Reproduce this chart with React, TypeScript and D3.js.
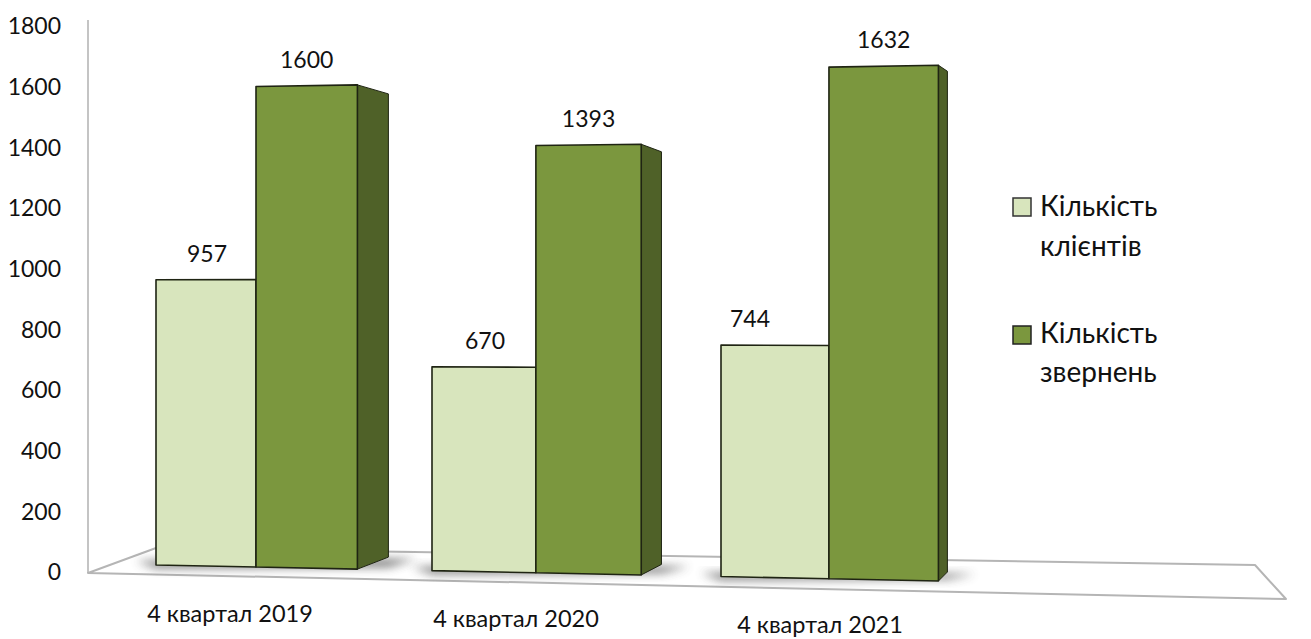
import * as d3 from 'd3';

const categories = ['4 квартал 2019', '4 квартал 2020', '4 квартал 2021'];
const clients = [957, 670, 744];
const requests = [1600, 1393, 1632];
const yTicks = [0, 200, 400, 600, 800, 1000, 1200, 1400, 1600, 1800];

const WIDTH = 1311;
const HEIGHT = 639;
const FONT = 'Lato, "Open Sans", sans-serif';

const LIGHT = '#d8e5bd';
const MID = '#7b973e';
const DARK = '#4f6128';
const EDGE = '#1f2413';

// the original is a 3d chart in perspective, so everything drifts with x
const groupLeft = d3.scaleLinear().domain([0, 1, 2]).range([156, 432, 721]);
const barWidth = d3.scaleLinear().domain([156, 938]).range([100, 111]);
const baseline = d3.scaleLinear().domain([156, 938]).range([565, 581]);
const unitHeight = d3.scaleLinear().domain([156, 938]).range([0.298, 0.316]);
const sideDepth = d3.scaleLinear().domain([357, 938]).range([31, 9]);
const sideTopDrop = d3.scaleLinear().domain([357, 938]).range([9, 6]);
const sideBottomRise = d3.scaleLinear().domain([357, 938]).range([12, 9]);
const axisY = d3.scaleLinear().domain([0, 1800]).range([572, 26]);
const labelX = d3.scaleLinear().domain([0, 1, 2]).range([230, 516, 820]);
const labelY = d3.scaleLinear().domain([0, 1, 2]).range([622, 627, 633]);
// the 744 label sits off centre in the original
const clientLabelX = d3.scaleLinear().domain([0, 1, 2]).range([207, 485, 750]);

const valueY = (x: number, v: number) => baseline(x) - v * unitHeight(x);

const pts = (p: number[][]) => p.map((d) => d.join(',')).join(' ');

function Bar({ x0, x1, value, fill }: { x0: number; x1: number; value: number; fill: string }) {
  return (
    <polygon
      points={pts([
        [x0, valueY(x0, value)],
        [x1, valueY(x1, value)],
        [x1, baseline(x1)],
        [x0, baseline(x0)],
      ])}
      fill={fill}
      stroke={EDGE}
      strokeWidth={1.6}
      strokeLinejoin="round"
    />
  );
}

export default function App() {
  return (
    <svg
      width={WIDTH}
      height={HEIGHT}
      style={{ position: 'absolute', left: 0, top: 0, background: '#fff' }}
      fontFamily={FONT}
      fill="#111"
    >
      <defs>
        <filter id="soft" x="-50%" y="-100%" width="200%" height="300%">
          <feGaussianBlur stdDeviation="5" />
        </filter>
      </defs>

      {/* wall and floor */}
      <polyline points="88,20 88,573" fill="none" stroke="#c4c4c4" strokeWidth={2} />
      <polygon
        points="88,573 1286,599 1255,565 156,548"
        fill="#fff"
        stroke="#b5b5b5"
        strokeWidth={2}
        strokeLinejoin="round"
      />

      {/* y axis labels */}
      {yTicks.map((t) => (
        <text key={t} x={61} y={axisY(t)} dy="0.36em" textAnchor="end" fontSize={23}>
          {t}
        </text>
      ))}

      {categories.map((c, i) => {
        const x0 = groupLeft(i);
        const xm = x0 + barWidth(x0);
        const x1 = xm + barWidth(xm);
        const depth = sideDepth(x1);
        const topY = valueY(x1, requests[i]);
        const botY = baseline(x1);
        return (
          <g key={c}>
            {/* floor shadows */}
            <polygon
              points={pts([
                [x0 - 20, botY - 8],
                [x1 + depth + 28, botY - sideBottomRise(x1) + 2],
                [x1 + depth, botY - 2],
                [x0, botY - 1],
              ])}
              fill="#666"
              opacity={0.9}
              filter="url(#soft)"
            />

            <Bar x0={x0} x1={xm} value={clients[i]} fill={LIGHT} />

            {/* side and top of the tall bar */}
            <polygon
              points={pts([
                [x1, topY],
                [x1 + depth, topY + sideTopDrop(x1)],
                [x1 + depth, botY - sideBottomRise(x1)],
                [x1, botY],
              ])}
              fill={DARK}
              stroke={EDGE}
              strokeWidth={1}
              strokeLinejoin="round"
            />
            <Bar x0={xm} x1={x1} value={requests[i]} fill={MID} />

            <text x={clientLabelX(i)} y={valueY((x0 + xm) / 2, clients[i]) - 18} textAnchor="middle" fontSize={23}>
              {clients[i]}
            </text>
            <text x={(xm + x1) / 2} y={valueY((xm + x1) / 2, requests[i]) - 18} textAnchor="middle" fontSize={23}>
              {requests[i]}
            </text>

            <text x={labelX(i)} y={labelY(i)} textAnchor="middle" fontSize={23.5}>
              {c}
            </text>
          </g>
        );
      })}

      {/* legend */}
      <rect x={1013} y={198} width={18} height={18} fill={LIGHT} stroke="#333" strokeWidth={1.5} />
      <text x={1040} y={216} fontSize={28}>Кількість</text>
      <text x={1040} y={256} fontSize={28}>клієнтів</text>
      <rect x={1013} y={326} width={18} height={18} fill={MID} stroke="#222" strokeWidth={1.5} />
      <text x={1040} y={343} fontSize={28}>Кількість</text>
      <text x={1040} y={382} fontSize={28}>звернень</text>
    </svg>
  );
}
